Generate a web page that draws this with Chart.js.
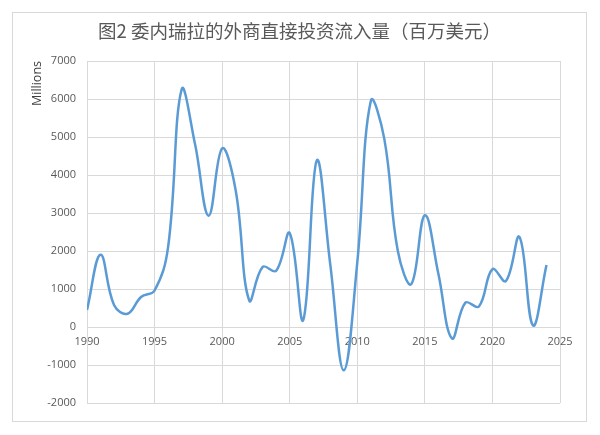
<!DOCTYPE html>
<html>
<head>
<meta charset="utf-8">
<script src="https://cdn.jsdelivr.net/npm/chart.js@4.4.1/dist/chart.umd.min.js"></script>
<style>
  html, body { margin: 0; padding: 0; background: #fff; }
  #box {
    position: absolute; left: 12px; top: 12px;
    width: 573px; height: 408px;
    border: 1px solid #d9d9d9;
  }
  #box canvas { display: block; }
</style>
</head>
<body>
<div id="box"><canvas id="fdi" width="573" height="408"></canvas></div>
<script>
const years = [1990, 1991, 1992, 1993, 1994, 1995, 1996, 1997, 1998, 1999,
               2000, 2001, 2002, 2003, 2004, 2005, 2006, 2007, 2008, 2009,
               2010, 2011, 2012, 2013, 2014, 2015, 2016, 2017, 2018, 2019,
               2020, 2021, 2022, 2023, 2024];
const inflows = [450, 1900, 580, 350, 790, 960, 2100, 6250, 4800, 2930,
                 4700, 3600, 700, 1580, 1480, 2470, 180, 4380, 1650, -1140,
                 1700, 5950, 4950, 2000, 1130, 2940, 1400, -300, 640, 540,
                 1520, 1210, 2370, 40, 1630];
const yTicks = [-2000, -1000, 0, 1000, 2000, 3000, 4000, 5000, 6000, 7000];
const xTicks = [1990, 1995, 2000, 2005, 2010, 2015, 2020, 2025];

const points = [];
for (let i = 0; i < years.length; i++) {
    points.push({ x: years[i], y: inflows[i] });
}

const grey = '#595959';
const gridGrey = '#d9d9d9';

const ctx = document.getElementById('fdi').getContext('2d');
const chart = new Chart(ctx, {
    type: 'line',
    data: {
        datasets: [{
            label: 'FDI',
            data: points,
            borderColor: '#5b9bd5',
            borderWidth: 2.5,
            pointRadius: 0,
            tension: 0.4,
            fill: false
        }]
    },
    options: {
        responsive: false,
        animation: false,
        // left padding centres the title, y axis width keeps plot left at 74
        layout: { padding: { left: 26, right: 26, top: 0, bottom: 18 } },
        plugins: {
            legend: { display: false },
            tooltip: { enabled: false },
            title: {
                display: true,
                text: '图2 委内瑞拉的外商直接投资流入量（百万美元）',
                color: grey,
                font: { family: '"Noto Sans CJK SC", "Noto Sans", sans-serif', size: 18.5, weight: 'normal' },
                padding: { top: 7, bottom: 18.8 }
            }
        },
        scales: {
            x: {
                type: 'linear',
                position: { y: 0 },
                min: 1990,
                max: 2025,
                afterBuildTicks: (scale) => {
                    scale.ticks = xTicks.map(v => ({ value: v }));
                },
                ticks: {
                    color: grey,
                    padding: 8,
                    font: { family: '"Open Sans", sans-serif', size: 11 },
                    callback: (v) => String(v)
                },
                grid: { color: gridGrey, drawTicks: false },
                border: { color: gridGrey }
            },
            y: {
                min: -2000,
                max: 7000,
                afterBuildTicks: (scale) => {
                    scale.ticks = yTicks.map(v => ({ value: v }));
                },
                afterFit: (scale) => { scale.width = 48; },
                ticks: {
                    color: grey,
                    padding: 11,
                    font: { family: '"Open Sans", sans-serif', size: 11 },
                    callback: (v) => String(v)
                },
                grid: { color: gridGrey, drawTicks: false },
                border: { color: gridGrey },
                title: {
                    display: true,
                    text: 'Millions',
                    align: 'end',
                    color: '#404040',
                    font: { family: '"Open Sans", sans-serif', size: 12.5 },
                    padding: { top: -9.5, bottom: 0 }
                }
            }
        }
    }
});
</script>
</body>
</html>
